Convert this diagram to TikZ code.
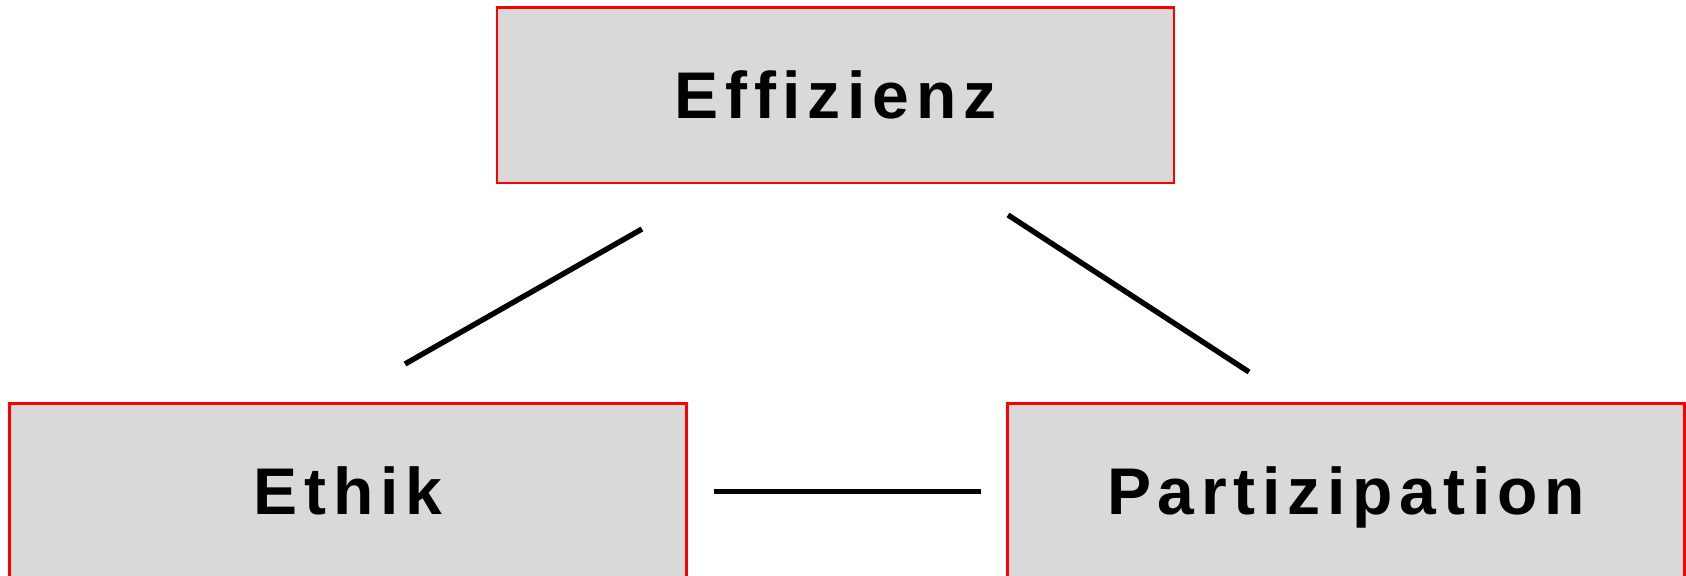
\documentclass[tikz,border=0pt]{standalone}
\usepackage{fontspec}
\usepackage{xcolor}
\usepackage{tikz}
\usetikzlibrary{positioning}

\newfontfamily\goalfont[LetterSpace=10.3]{Liberation Sans}
\definecolor{goalgray}{HTML}{D9D9D9}

\begin{document}
\begin{tikzpicture}[x=0.5pt, y=-0.5pt]

\tikzstyle{goal} = [rectangle, draw=red, line width=1.2pt, fill=goalgray,
  minimum width=338.5pt, minimum height=87.75pt, inner sep=0pt,
  text height=23.6pt, text depth=0pt,
  font=\goalfont\bfseries\fontsize{33}{40}\selectfont]
\tikzstyle{link} = [line width=2.7pt]

\useasboundingbox (0,0) rectangle (1686,576);
\clip (0,0) rectangle (1686,576);

\node[goal] (1) at (835.5,95.25) {Effizienz};
\node[goal] (2) at (348,491.25) {Ethik};
\node[goal] (3) at (1346,491.25) {Partizipation};

\coordinate (12a) at (642,229);
\coordinate (12b) at (405,364);
\coordinate (13a) at (1008,215);
\coordinate (13b) at (1249,372);

  \path
    (12a) edge[link] (12b)
    (13a) edge[link] (13b)
    (2.east) edge[link, shorten <=13.25pt, shorten >=12.5pt] (3.west);
\end{tikzpicture}
\end{document}
